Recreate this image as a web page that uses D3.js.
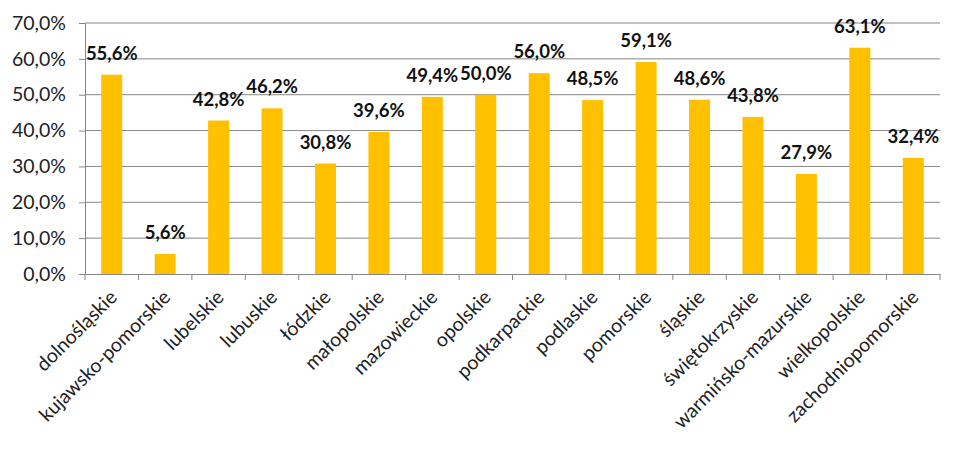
<!DOCTYPE html>
<html><head><meta charset="utf-8">
<script src="https://cdn.jsdelivr.net/npm/d3@7"></script>
<style>body{margin:0;background:#fff}text{font-family:Lato,"Open Sans",sans-serif}</style>
</head><body><svg id="c" width="963" height="450"></svg>
<script>
const categories = ["dolnośląskie","kujawsko-pomorskie","lubelskie","lubuskie","łódzkie","małopolskie","mazowieckie","opolskie","podkarpackie","podlaskie","pomorskie","śląskie","świętokrzyskie","warmińsko-mazurskie","wielkopolskie","zachodniopomorskie"];
const values = [55.6,5.6,42.8,46.2,30.8,39.6,49.4,50.0,56.0,48.5,59.1,48.6,43.8,27.9,63.1,32.4];
const yTicks = [0,10,20,30,40,50,60,70];

const svg = d3.select("#c");
const m = {l:85, r:23, t:23, b:176};
const W = 963, H = 450;
const xb = d3.scaleBand().domain(categories).range([m.l, W-m.r]);
const y = d3.scaleLinear().domain([0,70]).range([H-m.b, m.t]);
const fmt = v => v.toFixed(1).replace(".", ",") + "%";

// grid
svg.append("g").selectAll("line").data(yTicks.filter(d=>d>0)).join("line")
  .attr("x1", m.l).attr("x2", W-m.r).attr("y1", d=>y(d)).attr("y2", d=>y(d))
  .attr("stroke","#868686").attr("stroke-width",1);

// y axis
const ya = svg.append("g").attr("transform",`translate(${m.l},0)`)
  .call(d3.axisLeft(y).tickValues(yTicks).tickFormat(fmt).tickSize(6).tickPadding(13));
ya.select(".domain").attr("stroke","#868686");
ya.selectAll(".tick line").attr("stroke","#868686");
ya.selectAll("text").attr("font-size",19.5).attr("fill","#222");

// bars
svg.append("g").selectAll("rect").data(values).join("rect")
  .attr("x",(d,i)=>xb(categories[i]) + xb.bandwidth()/2 - 10.5)
  .attr("width",21)
  .attr("y",d=>y(d)).attr("height",d=>y(0)-y(d)).attr("fill","#FFC000");

// x axis
const xa = svg.append("g").attr("transform",`translate(0,${y(0)})`)
  .call(d3.axisBottom(xb).tickSize(0).tickFormat(""));
xa.select(".domain").attr("stroke","#868686");
svg.append("g").selectAll("line").data(d3.range(categories.length+1)).join("line")
  .attr("x1",i=>m.l+i*xb.step()).attr("x2",i=>m.l+i*xb.step())
  .attr("y1",y(0)).attr("y2",y(0)+6).attr("stroke","#868686");

// category labels
svg.append("g").selectAll("text").data(categories).join("text")
  .attr("transform",d=>`translate(${xb(d)+xb.bandwidth()/2+3},${y(0)+21}) rotate(-45)`)
  .attr("text-anchor","end").attr("dominant-baseline","middle")
  .attr("font-size",19.5).attr("fill","#222").text(d=>d);

// data labels
svg.append("g").selectAll("text").data(values).join("text")
  .attr("x",(d,i)=>xb(categories[i])+xb.bandwidth()/2)
  .attr("y",d=>y(d)-15)
  .attr("text-anchor","middle").attr("font-weight","bold").attr("font-size",18.5).attr("fill","#111")
  .text(fmt);
</script></body></html>
